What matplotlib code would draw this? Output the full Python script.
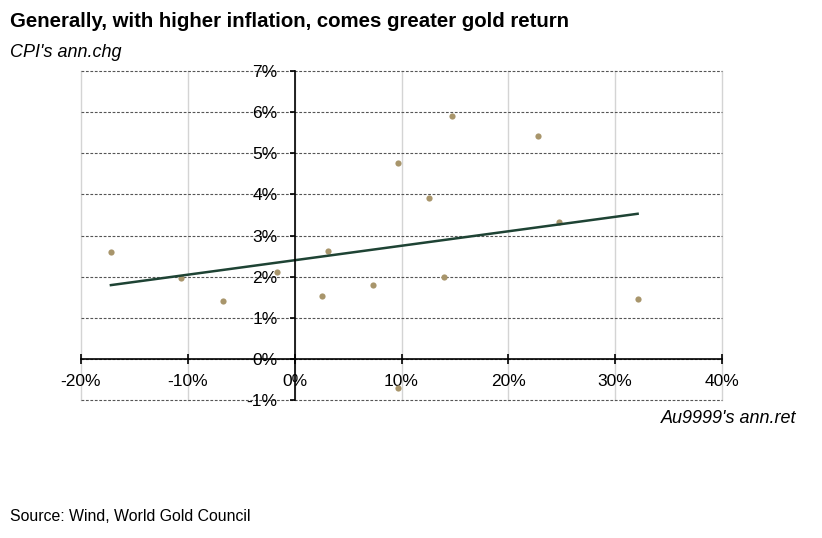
import numpy as np
import matplotlib
matplotlib.use("Agg")
import matplotlib.pyplot as plt
from matplotlib.ticker import FuncFormatter

# Data (annual gold return vs CPI annual change, in %)
gold_ret = [-17.2, -10.6, -6.7, -1.7, 2.6, 3.1, 7.3, 9.7, 9.7, 12.6, 14.0, 14.7, 22.8, 24.7, 32.1]
cpi_chg = [2.61, 1.96, 1.41, 2.12, 1.53, 2.63, 1.79, -0.71, 4.76, 3.90, 1.99, 5.91, 5.42, 3.32, 1.46]
x_ticks = [-20, -10, 0, 10, 20, 30, 40]
y_ticks = [-1, 0, 1, 2, 3, 4, 5, 6, 7]

title = "Generally, with higher inflation, comes greater gold return"
y_title = "CPI's ann.chg"
x_title = "Au9999's ann.ret"
source = "Source: Wind, World Gold Council"

plt.rcParams['font.family'] = ['Liberation Sans', 'DejaVu Sans']

W, H = 822, 538
fig = plt.figure(figsize=(W / 100, H / 100), dpi=100)
ax = fig.add_axes([81 / W, 1 - 400 / H, (722 - 81) / W, (400 - 71) / H])

x = np.array(gold_ret)
y = np.array(cpi_chg)

ax.scatter(x, y, s=20, color='#a8956b', zorder=3, linewidths=0, clip_on=False)

m, b = np.polyfit(x, y, 1)
xl = np.array([x.min(), x.max()])
ax.plot(xl, m * xl + b, color='#1e4334', lw=1.8, zorder=4)

ax.set_xlim(-20, 40)
ax.set_ylim(-1, 7)
ax.set_xticks(x_ticks)
ax.set_yticks(y_ticks)
pct = FuncFormatter(lambda v, p: f"{v:.0f}%")
ax.xaxis.set_major_formatter(pct)
ax.yaxis.set_major_formatter(pct)

# grid
for t in x_ticks:
    ax.axvline(t, color='#d4d4d4', lw=1.0, zorder=0, clip_on=False)
for t in y_ticks:
    ax.axhline(t, color='#555555', lw=0.8, ls=(0, (2.5, 1.5)), zorder=1, clip_on=False)

for s in ['top', 'right']:
    ax.spines[s].set_visible(False)
ax.spines['left'].set_position(('data', 0))
ax.spines['bottom'].set_position(('data', 0))
ax.spines['left'].set_color('black')
ax.spines['bottom'].set_color('black')
ax.spines['left'].set_linewidth(1.2)
ax.spines['bottom'].set_linewidth(1.2)
ax.spines['left'].set_zorder(5)
ax.spines['bottom'].set_zorder(5)

ax.tick_params(axis='x', direction='inout', length=6.5, width=1.2, pad=8, labelsize=12.5, colors='black')
ax.tick_params(axis='y', direction='out', length=3.6, width=1.2, pad=8.6, labelsize=12.5, colors='black')

fig.text(10 / W, 1 - 27 / H, title, fontsize=14.7, fontweight='bold', ha='left', va='baseline')
fig.text(10 / W, 1 - 57 / H, y_title, fontsize=13, style='italic', ha='left', va='baseline')
fig.text(796 / W, 1 - 423 / H, x_title, fontsize=13, style='italic', ha='right', va='baseline')
fig.text(10 / W, 1 - 521 / H, source, fontsize=11.4, ha='left', va='baseline')

fig.savefig('out.png', dpi=100, facecolor='white')
